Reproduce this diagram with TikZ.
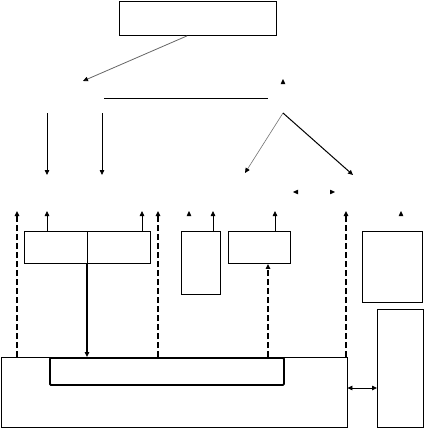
\documentclass[tikz,border=0pt]{standalone}
\usepackage{tikz}
\usetikzlibrary{arrows.meta,positioning,calc}

\begin{document}
\begin{tikzpicture}[
        x=1pt, y=-1pt,
        box/.style={draw, line width=0.9pt, anchor=north west, inner sep=0pt},
        bus/.style={box, line width=1.8pt, rounded corners=1pt},
        arr/.style={-{Triangle[length=5pt,width=4.5pt,black]}, line width=0.8pt},
        darr/.style={arr, line width=1.8pt, dash pattern=on 6pt off 3pt},
        tipo/.style={-{Triangle[length=5pt,width=4.5pt,black]}, draw=white}
    ]
        \useasboundingbox (0,0) rectangle (425,428);
        % boxes
        \node[box, minimum width=157pt, minimum height=34pt] (top) at (119,1) {};
        \node[box, minimum width=63pt, minimum height=32pt] (pl) at (24,231) {};
        \node[box, minimum width=63pt, minimum height=32pt] (pr) at (87,231) {};
        \node[box, minimum width=39pt, minimum height=63pt] (mid) at (181,231) {};
        \node[box, minimum width=62pt, minimum height=32pt] (rb) at (228,231) {};
        \node[box, minimum width=60pt, minimum height=71pt] (far) at (362,231) {};
        \node[box, minimum width=46pt, minimum height=118pt] (tall) at (377,309) {};
        \node[box, minimum width=346pt, minimum height=70pt] (base) at (0.5,357) {};
        \node[bus, minimum width=234pt, minimum height=27pt] (bs) at (49,357) {};
        % free ends
        \coordinate (hl) at (104,98);
        \coordinate (hr) at (268,98);
        \coordinate (ap) at (283,113);
        \coordinate (ll) at (83,81);
        % connectors
        \draw[arr, black!60] (187,36 |- top.south) -- (ll);
        \draw (hl) -- (hr);
        \draw[arr] (47,113) -- (47,175);
        \draw[arr] (102,113) -- (102,175);
        \draw[arr, black!55, line width=0.6pt] (ap) -- (245,173);
        \draw[arr, line width=1pt] (ap) -- (353,175);
        \draw[arr] (47,0 |- pl.north) -- (47,211);
        \draw[arr] (142,0 |- pr.north) -- (142,211);
        \draw[arr] (213,0 |- mid.north) -- (213,211);
        \draw[arr] (275,0 |- rb.north) -- (275,211);
        \draw[darr] (17,0 |- base.north) -- (17,211);
        \draw[darr] (158,0 |- base.north) -- (158,211);
        \draw[darr] (346,0 |- base.north) -- (346,211);
        \draw[darr] (268,0 |- bs.north) -- (268,0 |- rb.south);
        \draw[arr, line width=1.6pt] (87,0 |- pl.south) -- (87,0 |- bs.north);
        \draw[{Triangle[length=5pt,width=4.5pt]}-{Triangle[length=5pt,width=4.5pt]}, line width=0.8pt]
            (base.east |- 0,388) -- (tall.west |- 0,388);
        % lone tips
        \draw[tipo] (283,84) -- (283,79);
        \draw[tipo] (189,216) -- (189,211);
        \draw[tipo] (401,216) -- (401,211);
        \draw[tipo] (298,192) -- (293,192);
        \draw[tipo] (330,192) -- (335,192);
    \end{tikzpicture}
\end{document}
